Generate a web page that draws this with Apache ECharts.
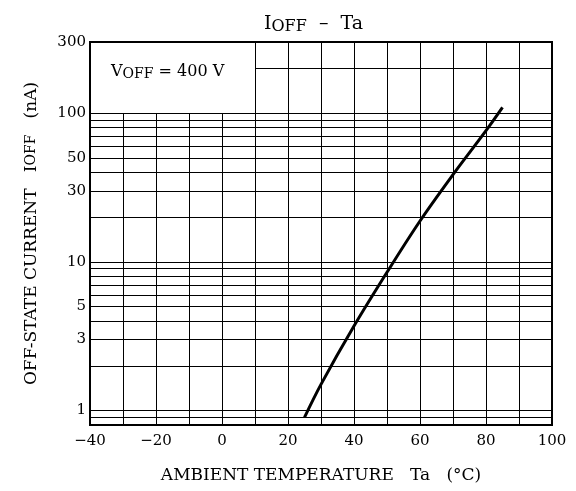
<!DOCTYPE html>
<html>
<head>
<meta charset="utf-8">
<script src="https://cdn.jsdelivr.net/npm/echarts@6/dist/echarts.min.js"></script>
<style>
html,body{margin:0;padding:0;background:#fff;}
#chart{width:576px;height:491px;}
</style>
</head>
<body>
<div id="chart"></div>
<script>
// ---- data ----
const temps = [25, 30, 40, 50, 60, 70, 80, 85];
const ioff = [0.9, 1.5, 3.7, 8.5, 18.8, 38.5, 76, 109];
const xTickLabels = [-40, -20, 0, 20, 40, 60, 80, 100];
const yTickLabels = [1, 3, 5, 10, 30, 50, 100, 300];
const xGridValues = [-30, -20, -10, 0, 10, 20, 30, 40, 50, 60, 70, 80, 90];
const yGridValues = [0.9, 1, 2, 3, 4, 5, 6, 7, 8, 9, 10, 20, 30, 40, 50, 60, 70, 80, 90, 100, 200, 300];
const xMin = -40, xMax = 100, yMin = 0.8, yMax = 300;
const boxX = 10, boxY = 100; // annotation box corner (data units)

const FONT = 'DejaVu Serif';
const chart = echarts.init(document.getElementById('chart'));

const gridLines = [];
yGridValues.forEach(v => {
  const x0 = (v > boxY && v < yMax) ? boxX : xMin;
  const lbl = yTickLabels.indexOf(v) >= 0;
  gridLines.push([
    {coord: [x0, v], label: {show: lbl, position: 'start', formatter: String(v)}},
    {coord: [xMax, v]}
  ]);
});
xGridValues.forEach(v => {
  const y1 = v < boxX ? boxY : yMax;
  gridLines.push([
    {coord: [v, yMin], label: {show: false}},
    {coord: [v, y1]}
  ]);
});

const option = {
  animation: false,
  backgroundColor: '#fff',
  title: {
    text: 'I{sub|OFF}  \u2013  Ta',
    left: 259, top: 8,
    textStyle: {
      fontFamily: FONT, fontSize: 19, fontWeight: 'normal', color: '#000',
      rich: {sub: {fontFamily: FONT, fontSize: 16, color: '#000', padding: [6, 0, 0, 0]}}
    }
  },
  graphic: [{
    type: 'text', left: 111, top: 64, z: 10,
    style: {
      text: 'V{sub|OFF} = 400 V',
      font: '16px "DejaVu Serif"', fill: '#000',
      rich: {sub: {font: '14px "DejaVu Serif"', fill: '#000', padding: [5, 0, 0, 0]}}
    }
  }],
  grid: {left: 90, right: 24, top: 42, bottom: 66, show: true, borderColor: '#000', borderWidth: 2, backgroundColor: 'transparent'},
  xAxis: {
    type: 'value', min: xMin, max: xMax, interval: 10,
    name: 'AMBIENT TEMPERATURE   Ta   (\u00B0C)',
    nameLocation: 'middle', nameGap: 42,
    nameTextStyle: {fontFamily: FONT, fontSize: 17, color: '#000'},
    axisLine: {show: true, onZero: false, lineStyle: {color: '#000', width: 2}},
    axisTick: {show: false},
    splitLine: {show: false},
    axisLabel: {
      fontFamily: FONT, fontSize: 15, color: '#000', margin: 9,
      formatter: v => xTickLabels.indexOf(v) >= 0 ? (v < 0 ? '\u2212' + Math.abs(v) : String(v)) : ''
    }
  },
  yAxis: {
    type: 'log', logBase: 10, min: yMin, max: yMax,
    name: 'OFF-STATE CURRENT   I{sub|OFF}   (nA)',
    nameLocation: 'middle', nameGap: 50,
    nameTextStyle: {fontFamily: FONT, fontSize: 17, color: '#000',
      rich: {sub: {fontFamily: FONT, fontSize: 14, color: '#000'}}},
    axisLine: {show: true, onZero: false, lineStyle: {color: '#000', width: 2}},
    axisTick: {show: false},
    axisLabel: {show: false},
    splitLine: {show: false}
  },
  series: [
    {
      type: 'line', data: [], silent: true, z: 1,
      markLine: {
        silent: true, symbol: 'none', animation: false,
        lineStyle: {color: '#000', width: 1, type: 'solid'},
        label: {fontFamily: FONT, fontSize: 15, color: '#000', distance: 4},
        emphasis: {disabled: true},
        data: gridLines
      }
    },
    {
      type: 'line', z: 5, smooth: 0.35, showSymbol: false, symbol: 'none',
      lineStyle: {color: '#000', width: 3},
      data: temps.map((t, i) => [t, ioff[i]])
    }
  ]
};
chart.setOption(option);
</script>
</body>
</html>
